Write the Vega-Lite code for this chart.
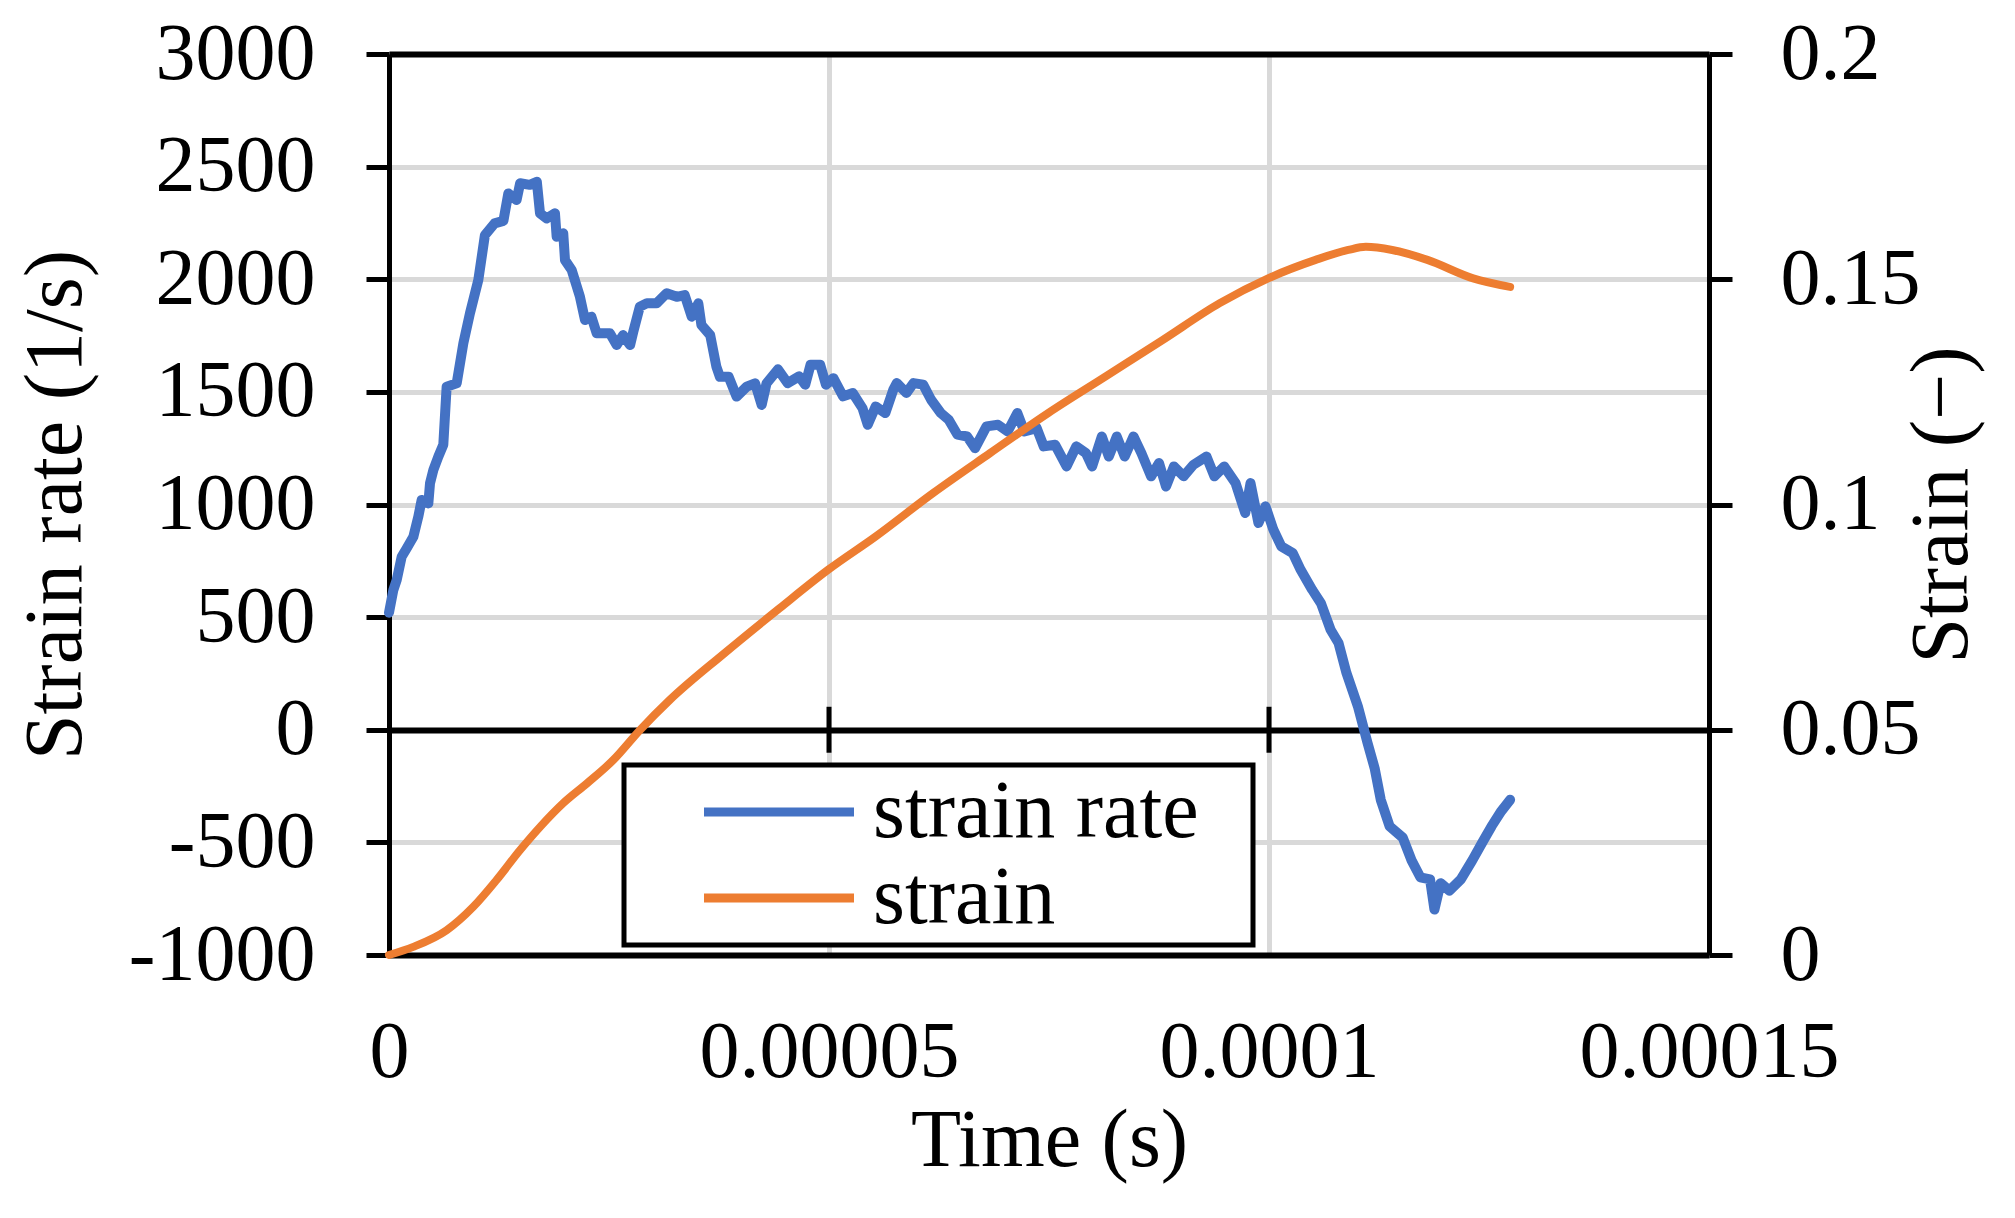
{
  "$schema": "https://vega.github.io/schema/vega-lite/v6.json",
  "width": 1320,
  "height": 901,
  "autosize": {"type": "none"},
  "padding": {"left": 389, "top": 54, "right": 306, "bottom": 263},
  "background": "white",
  "datasets": {
    "rate": [
      {"t": 0, "rate": 520}, {"t": 4.9e-7, "rate": 620}, {"t": 8.7e-7, "rate": 664}, {"t": 1.44e-6, "rate": 768},
      {"t": 2.0e-6, "rate": 805}, {"t": 2.77e-6, "rate": 857}, {"t": 3.33e-6, "rate": 946}, {"t": 3.71e-6, "rate": 1020},
      {"t": 4.47e-6, "rate": 1005}, {"t": 4.66e-6, "rate": 1094}, {"t": 5.04e-6, "rate": 1153}, {"t": 5.6e-6, "rate": 1212},
      {"t": 6.17e-6, "rate": 1265}, {"t": 6.55e-6, "rate": 1523}, {"t": 7.69e-6, "rate": 1538}, {"t": 8.45e-6, "rate": 1716},
      {"t": 9.2e-6, "rate": 1849}, {"t": 1.015e-5, "rate": 1997}, {"t": 1.09e-5, "rate": 2196}, {"t": 1.2e-5, "rate": 2248},
      {"t": 1.3e-5, "rate": 2259}, {"t": 1.356e-5, "rate": 2381}, {"t": 1.45e-5, "rate": 2352}, {"t": 1.49e-5, "rate": 2426},
      {"t": 1.6e-5, "rate": 2419}, {"t": 1.68e-5, "rate": 2433}, {"t": 1.716e-5, "rate": 2293}, {"t": 1.79e-5, "rate": 2270},
      {"t": 1.886e-5, "rate": 2293}, {"t": 1.905e-5, "rate": 2189}, {"t": 1.98e-5, "rate": 2204}, {"t": 2.0e-5, "rate": 2085},
      {"t": 2.076e-5, "rate": 2041}, {"t": 2.17e-5, "rate": 1922}, {"t": 2.227e-5, "rate": 1819}, {"t": 2.3e-5, "rate": 1834},
      {"t": 2.36e-5, "rate": 1760}, {"t": 2.51e-5, "rate": 1760}, {"t": 2.587e-5, "rate": 1708}, {"t": 2.66e-5, "rate": 1752},
      {"t": 2.74e-5, "rate": 1708}, {"t": 2.776e-5, "rate": 1767}, {"t": 2.85e-5, "rate": 1878}, {"t": 2.93e-5, "rate": 1893},
      {"t": 3.04e-5, "rate": 1893}, {"t": 3.155e-5, "rate": 1938}, {"t": 3.27e-5, "rate": 1922}, {"t": 3.36e-5, "rate": 1930},
      {"t": 3.44e-5, "rate": 1834}, {"t": 3.515e-5, "rate": 1893}, {"t": 3.55e-5, "rate": 1797}, {"t": 3.65e-5, "rate": 1752},
      {"t": 3.72e-5, "rate": 1612}, {"t": 3.76e-5, "rate": 1567}, {"t": 3.86e-5, "rate": 1567}, {"t": 3.95e-5, "rate": 1479},
      {"t": 4.065e-5, "rate": 1523}, {"t": 4.16e-5, "rate": 1538}, {"t": 4.235e-5, "rate": 1442}, {"t": 4.29e-5, "rate": 1538},
      {"t": 4.42e-5, "rate": 1600}, {"t": 4.53e-5, "rate": 1539}, {"t": 4.66e-5, "rate": 1569}, {"t": 4.73e-5, "rate": 1532},
      {"t": 4.79e-5, "rate": 1620}, {"t": 4.9e-5, "rate": 1620}, {"t": 4.965e-5, "rate": 1532}, {"t": 5.05e-5, "rate": 1561},
      {"t": 5.16e-5, "rate": 1480}, {"t": 5.27e-5, "rate": 1495}, {"t": 5.38e-5, "rate": 1428}, {"t": 5.44e-5, "rate": 1354},
      {"t": 5.53e-5, "rate": 1435}, {"t": 5.64e-5, "rate": 1406}, {"t": 5.73e-5, "rate": 1509}, {"t": 5.77e-5, "rate": 1539},
      {"t": 5.88e-5, "rate": 1495}, {"t": 5.96e-5, "rate": 1539}, {"t": 6.07e-5, "rate": 1532}, {"t": 6.16e-5, "rate": 1465},
      {"t": 6.27e-5, "rate": 1406}, {"t": 6.36e-5, "rate": 1376}, {"t": 6.46e-5, "rate": 1310}, {"t": 6.57e-5, "rate": 1302},
      {"t": 6.66e-5, "rate": 1250}, {"t": 6.79e-5, "rate": 1347}, {"t": 6.92e-5, "rate": 1354}, {"t": 7.03e-5, "rate": 1324},
      {"t": 7.14e-5, "rate": 1406}, {"t": 7.22e-5, "rate": 1324}, {"t": 7.36e-5, "rate": 1339}, {"t": 7.44e-5, "rate": 1258},
      {"t": 7.57e-5, "rate": 1265}, {"t": 7.7e-5, "rate": 1169}, {"t": 7.81e-5, "rate": 1258}, {"t": 7.92e-5, "rate": 1228},
      {"t": 7.99e-5, "rate": 1169}, {"t": 8.1e-5, "rate": 1302}, {"t": 8.18e-5, "rate": 1213}, {"t": 8.27e-5, "rate": 1302},
      {"t": 8.36e-5, "rate": 1213}, {"t": 8.46e-5, "rate": 1302}, {"t": 8.55e-5, "rate": 1228}, {"t": 8.66e-5, "rate": 1125},
      {"t": 8.75e-5, "rate": 1184}, {"t": 8.83e-5, "rate": 1080}, {"t": 8.92e-5, "rate": 1169}, {"t": 9.03e-5, "rate": 1125},
      {"t": 9.14e-5, "rate": 1176}, {"t": 9.29e-5, "rate": 1213}, {"t": 9.38e-5, "rate": 1125}, {"t": 9.49e-5, "rate": 1169},
      {"t": 9.62e-5, "rate": 1095}, {"t": 9.73e-5, "rate": 962}, {"t": 9.79e-5, "rate": 1095}, {"t": 9.88e-5, "rate": 918},
      {"t": 9.96e-5, "rate": 992}, {"t": 1.005e-4, "rate": 888}, {"t": 1.014e-4, "rate": 814}, {"t": 1.027e-4, "rate": 784},
      {"t": 1.036e-4, "rate": 710}, {"t": 1.049e-4, "rate": 622}, {"t": 1.059e-4, "rate": 562}, {"t": 1.07e-4, "rate": 444},
      {"t": 1.079e-4, "rate": 385}, {"t": 1.088e-4, "rate": 252}, {"t": 1.101e-4, "rate": 104}, {"t": 1.112e-4, "rate": -59},
      {"t": 1.12e-4, "rate": -170}, {"t": 1.127e-4, "rate": -311}, {"t": 1.137e-4, "rate": -428}, {"t": 1.152e-4, "rate": -479},
      {"t": 1.162e-4, "rate": -580}, {"t": 1.172e-4, "rate": -655}, {"t": 1.183e-4, "rate": -664}, {"t": 1.188e-4, "rate": -798},
      {"t": 1.195e-4, "rate": -681}, {"t": 1.205e-4, "rate": -714}, {"t": 1.218e-4, "rate": -664}, {"t": 1.231e-4, "rate": -580},
      {"t": 1.243e-4, "rate": -496}, {"t": 1.253e-4, "rate": -428}, {"t": 1.264e-4, "rate": -361}, {"t": 1.274e-4, "rate": -311}
    ],
    "strain": [
      {"t": 0, "strain": 0}, {"t": 2.76e-6, "strain": 0.0018}, {"t": 6.55e-6, "strain": 0.0055}, {"t": 9.58e-6, "strain": 0.0107},
      {"t": 1.22e-5, "strain": 0.0166}, {"t": 1.49e-5, "strain": 0.0233}, {"t": 1.72e-5, "strain": 0.0285}, {"t": 1.98e-5, "strain": 0.0337},
      {"t": 2.25e-5, "strain": 0.0381}, {"t": 2.55e-5, "strain": 0.0433}, {"t": 2.85e-5, "strain": 0.0499}, {"t": 3.19e-5, "strain": 0.0566},
      {"t": 3.8e-5, "strain": 0.0668}, {"t": 4.44e-5, "strain": 0.077}, {"t": 4.99e-5, "strain": 0.0855}, {"t": 5.53e-5, "strain": 0.0929},
      {"t": 6.18e-5, "strain": 0.1025}, {"t": 6.83e-5, "strain": 0.1114}, {"t": 7.49e-5, "strain": 0.1203}, {"t": 8.14e-5, "strain": 0.1284},
      {"t": 8.79e-5, "strain": 0.1365}, {"t": 9.44e-5, "strain": 0.1447}, {"t": 9.99e-5, "strain": 0.1502}, {"t": 1.053e-4, "strain": 0.1543},
      {"t": 1.09e-4, "strain": 0.1565}, {"t": 1.11e-4, "strain": 0.1572}, {"t": 1.14e-4, "strain": 0.1565}, {"t": 1.18e-4, "strain": 0.1543},
      {"t": 1.232e-4, "strain": 0.1502}, {"t": 1.274e-4, "strain": 0.1483}
    ],
    "ticks": [{"t": 0.00005}, {"t": 0.0001}]
  },
  "encoding": {
    "x": {
      "field": "t", "type": "quantitative",
      "scale": {"domain": [0, 0.00015], "nice": false, "zero": false},
      "axis": {
        "values": [0, 0.00005, 0.0001, 0.00015],
        "labelExpr": "'' + datum.value",
        "title": "Time (s)",
        "ticks": false, "tickSize": 0, "domain": false,
        "labelPadding": 58, "labelFlush": false, "labelOverlap": false, "labelLimit": 500,
        "grid": true, "gridColor": "#d9d9d9", "gridWidth": 5,
        "gridOpacity": {"condition": {"test": "datum.value < 0.00001 || datum.value > 0.00014", "value": 0}, "value": 1},
        "titlePadding": 73, "titleBaseline": "alphabetic"
      }
    }
  },
  "layer": [
    {
      "layer": [
        {
          "data": {"name": "rate"},
          "mark": {"type": "line", "strokeWidth": 10, "strokeCap": "round", "strokeJoin": "round"},
          "encoding": {
            "y": {
              "field": "rate", "type": "quantitative",
              "scale": {"domain": [-1000, 3000], "nice": false},
              "axis": {
                "values": [-1000, -500, 0, 500, 1000, 1500, 2000, 2500, 3000],
                "labelExpr": "'' + datum.value",
                "title": "Strain rate (1/s)",
                "tickSize": 23, "tickWidth": 5, "domainWidth": 5,
                "labelPadding": 51, "labelLimit": 500,
                "grid": true,
                "gridColor": {"condition": {"test": "datum.value == 0 || datum.value == -1000 || datum.value == 3000", "value": "black"}, "value": "#d9d9d9"},
                "gridWidth": {"condition": {"test": "datum.value == 0 || datum.value == -1000 || datum.value == 3000", "value": 6}, "value": 5},
                "titlePadding": 109, "titleBaseline": "alphabetic"
              }
            },
            "color": {
              "datum": "strain rate", "type": "nominal",
              "scale": {"domain": ["strain rate", "strain"], "range": ["#4472C4", "#ED7D31"]},
              "legend": {
                "orient": "none", "legendX": 235, "legendY": 711, "title": null,
                "symbolType": "M-5,0H5M30,0", "symbolSize": 900, "symbolStrokeWidth": 9,
                "symbolOffset": 108, "labelOffset": 53, "rowPadding": 4, "labelLimit": 600
              }
            }
          }
        },
        {
          "data": {"name": "ticks"},
          "mark": {"type": "rule", "color": "black", "strokeWidth": 5},
          "encoding": {
            "y": {"datum": -102, "type": "quantitative", "scale": {"domain": [-1000, 3000], "nice": false}},
            "y2": {"datum": 102}
          }
        }
      ]
    },
    {
      "data": {"name": "strain"},
      "mark": {"type": "line", "strokeWidth": 8, "interpolate": "monotone", "strokeCap": "round"},
      "encoding": {
        "y": {
          "field": "strain", "type": "quantitative",
          "scale": {"domain": [0, 0.2], "nice": false},
          "axis": {
            "orient": "right",
            "values": [0, 0.05, 0.1, 0.15, 0.2],
            "labelExpr": "'' + datum.value",
            "title": "Strain (−)",
            "titleAngle": 270, "titleBaseline": "alphabetic", "titlePadding": 57,
            "tickSize": 23, "tickWidth": 5, "domainWidth": 5,
            "labelPadding": 48, "labelLimit": 500,
            "grid": false
          }
        },
        "color": {"datum": "strain", "type": "nominal"}
      }
    }
  ],
  "resolve": {"scale": {"y": "independent"}},
  "config": {
    "view": {"stroke": null},
    "font": "Liberation Serif",
    "axis": {
      "labelFont": "Liberation Serif", "titleFont": "Liberation Serif",
      "labelFontSize": 80, "titleFontSize": 82,
      "labelColor": "black", "titleColor": "black", "titleFontWeight": "normal",
      "domainColor": "black", "tickColor": "black"
    },
    "legend": {
      "labelFont": "Liberation Serif", "labelFontSize": 82, "labelColor": "black",
      "strokeColor": "black", "strokeWidth": 5, "fillColor": "white", "padding": 6
    }
  }
}
